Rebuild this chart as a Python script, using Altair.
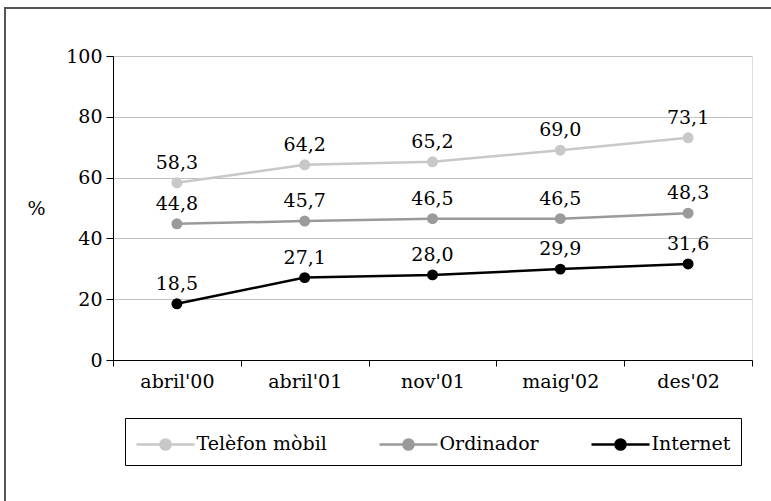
import altair as alt
import pandas as pd

categories = ["abril'00", "abril'01", "nov'01", "maig'02", "des'02"]
series_names = ["Telèfon mòbil", "Ordinador", "Internet"]
telefon = [58.3, 64.2, 65.2, 69.0, 73.1]
ordinador = [44.8, 45.7, 46.5, 46.5, 48.3]
internet = [18.5, 27.1, 28.0, 29.9, 31.6]
colors = ["#c8c8c8", "#9a9a9a", "#000000"]
y_ticks = [0, 20, 40, 60, 80, 100]

rows = []
for name, vals in zip(series_names, [telefon, ordinador, internet]):
    for c, v in zip(categories, vals):
        rows.append({"periode": c, "serie": name, "valor": v,
                     "etiqueta": f"{v:.1f}".replace(".", ",")})
df = pd.DataFrame(rows)

FONT = "DejaVu Serif"
FS = 19

x_enc = alt.X("periode:N", sort=categories, title=None,
              scale=alt.Scale(paddingInner=0, paddingOuter=0),
              axis=alt.Axis(labelAngle=0, tickBand="extent", grid=False,
                            labelFontSize=FS, labelFont=FONT, labelColor="black",
                            domainColor="black", tickColor="black", tickSize=6,
                            labelPadding=6))
y_enc = alt.Y("valor:Q", scale=alt.Scale(domain=[0, 100], nice=False),
              axis=alt.Axis(values=y_ticks, title="%", titleAngle=0,
                            titleX=-77, titleY=152, titleAlign="center",
                            titleBaseline="middle", titleFont=FONT,
                            titleFontSize=FS, titleFontWeight="normal",
                            titleColor="black",
                            labelFontSize=FS, labelFont=FONT, labelColor="black",
                            domainColor="black", tickColor="black", tickSize=7,
                            gridColor="#c0c0c0", gridWidth=1, labelPadding=4))
color_enc = alt.Color("serie:N", sort=series_names,
                      scale=alt.Scale(domain=series_names, range=colors),
                      legend=alt.Legend(
                          title=None, orient="none", legendX=12, legendY=362,
                          direction="horizontal",
                          symbolType="M-2,0H2M-0.35,0A0.35,0.35 0 1,0 0.35,0A0.35,0.35 0 1,0 -0.35,0Z",
                          symbolSize=841, symbolStrokeWidth=2.5,
                          symbolOffset=14.5, labelOffset=15,
                          labelFont=FONT, labelFontSize=FS, labelColor="black",
                          columnPadding=47, padding=10,
                          strokeColor="black"))

base = alt.Chart(df).encode(x=x_enc, y=y_enc, color=color_enc)

lines = base.mark_line(strokeWidth=2.5)
points = base.mark_point(filled=True, size=120, opacity=1)
labels = alt.Chart(df).mark_text(dy=-14, fontSize=FS, font=FONT, color="black",
                                 baseline="alphabetic").encode(
    x=alt.X("periode:N", sort=categories),
    y=alt.Y("valor:Q"),
    text="etiqueta:N")

frame_top = alt.Chart(df).mark_rule(color="#555555", strokeWidth=2).encode(
    x=alt.value(-108), x2=alt.value(660), y=alt.value(-48))
frame_left = alt.Chart(df).mark_rule(color="#555555", strokeWidth=2).encode(
    x=alt.value(-108), y=alt.value(-49), y2=alt.value(450))

chart = alt.layer(frame_top, frame_left, lines, points, labels).properties(
    width=639, height=304,
    autosize=alt.AutoSizeParams(type="none"),
    padding={"left": 113, "top": 56, "right": 19, "bottom": 141},
).configure_view(stroke="black", strokeWidth=1).configure(background="white")

chart.save("out.html", embed_options={"renderer": "svg", "actions": False})
